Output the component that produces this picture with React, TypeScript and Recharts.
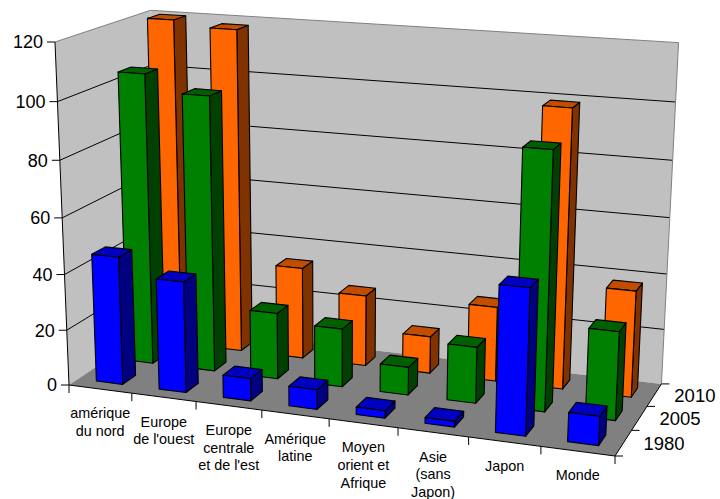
import React from 'react';
import { BarChart, Bar, XAxis, YAxis } from 'recharts';

// Regions and their wrapped label lines
const categories = ['amérique du nord', "Europe de l'ouest", "Europe centrale et de l'est", 'Amérique latine', 'Moyen orient et Afrique', 'Asie (sans Japon)', 'Japon', 'Monde'];
const categoryLines = [
  ['amérique', 'du nord'],
  ['Europe', "de l'ouest"],
  ['Europe', 'centrale', "et de l'est"],
  ['Amérique', 'latine'],
  ['Moyen', 'orient et', 'Afrique'],
  ['Asie', '(sans', 'Japon)'],
  ['Japon'],
  ['Monde'],
];
const values1980 = [46, 39.7, 8, 7, 2.6, 2, 50.3, 10];
const values2005 = [105, 99, 24, 21, 10, 20, 90, 31];
const values2010 = [120, 118, 33.7, 26, 13.5, 27, 99, 38];
const yTicks = [0, 20, 40, 60, 80, 100, 120];
const depthLabels = ['1980', '2005', '2010'];

const W = 720;
const H = 499;
const Y_MAX = 120;
const FONT = '"Liberation Sans", Arial, sans-serif';

const data = categories.map((name, i) => ({
  name,
  v1980: values1980[i],
  v2005: values2005[i],
  v2010: values2010[i],
}));

// Perspective map from the unit box (u along categories, v into depth, w up) to the page
const PG = -0.09;
const PH = 0.095;
const PI = -0.05;
const A = [69, 385];
const B = [615, 456];
const D = [159, 325];
const E = [55, 42];
const coef = (k: number) => [A[k], B[k] * (1 + PG) - A[k], D[k] * (1 + PH) - A[k], E[k] * (1 + PI) - A[k]];
const cx = coef(0);
const cy = coef(1);
const project = (u: number, v: number, w: number): [number, number] => {
  const den = 1 + PG * u + PH * v + PI * w;
  return [
    (cx[0] + cx[1] * u + cx[2] * v + cx[3] * w) / den,
    (cy[0] + cy[1] * u + cy[2] * v + cy[3] * w) / den,
  ];
};
const poly = (pts: [number, number][]) => pts.map((p) => `${p[0].toFixed(2)},${p[1].toFixed(2)}`).join(' ');

const ROW_GAP = 0.29;

type Tones = { front: string; side: string; top: string };
const blue: Tones = { front: '#0000FF', side: '#000080', top: '#0000C0' };
const green: Tones = { front: '#008000', side: '#004000', top: '#006000' };
const orange: Tones = { front: '#FF6600', side: '#803300', top: '#C04D00' };

// Draws one bar as a box whose footprint comes from the band and height from the value scale
const boxShape = (row: number, tones: Tones) => (props: any) => {
  const u0 = props.x / W;
  const u1 = (props.x + props.width) / W;
  const w = props.height / H;
  const v0 = (row + ROW_GAP) / 3;
  const v1 = (row + 1 - ROW_GAP) / 3;
  const common = { stroke: '#000', strokeWidth: 1.1, strokeLinejoin: 'round' as const };
  return (
    <g>
      <polygon {...common} fill={tones.side} points={poly([project(u1, v0, 0), project(u1, v1, 0), project(u1, v1, w), project(u1, v0, w)])} />
      <polygon {...common} fill={tones.top} points={poly([project(u0, v0, w), project(u1, v0, w), project(u1, v1, w), project(u0, v1, w)])} />
      <polygon {...common} fill={tones.front} points={poly([project(u0, v0, 0), project(u1, v0, 0), project(u1, v0, w), project(u0, v0, w)])} />
    </g>
  );
};

// Walls, floor and gridlines behind the bars
const Room = () => (
  <g>
    <polygon fill="#C0C0C0" points={poly([project(0, 0, 0), project(0, 1, 0), project(0, 1, 1), project(0, 0, 1)])} />
    <polygon fill="#C0C0C0" points={poly([project(0, 1, 0), project(1, 1, 0), project(1, 1, 1), project(0, 1, 1)])} />
    <polygon fill="#808080" points={poly([project(0, 0, 0), project(1, 0, 0), project(1, 1, 0), project(0, 1, 0)])} />
    {yTicks.filter((t) => t > 0 && t < Y_MAX).map((t) => (
      <polyline key={t} fill="none" stroke="#000" strokeWidth={1} points={poly([project(0, 0, t / Y_MAX), project(0, 1, t / Y_MAX), project(1, 1, t / Y_MAX)])} />
    ))}
    <polyline fill="none" stroke="#808080" strokeWidth={1} points={poly([project(0, 0, 1), project(0, 1, 1), project(1, 1, 1), project(1, 1, 0)])} />
    <line stroke="#000" strokeWidth={1} x1={project(0, 0, 0)[0]} y1={project(0, 0, 0)[1]} x2={project(0, 0, 1)[0]} y2={project(0, 0, 1)[1]} />
    <polyline fill="none" stroke="#000" strokeWidth={1} points={poly([project(0, 0, 0), project(1, 0, 0), project(1, 1, 0)])} />
    {depthLabels.map((label, i) => {
      const [x, y] = project(1, i / 3, 0);
      const [lx, ly] = project(1, (i + 0.5) / 3, 0);
      return (
        <g key={label}>
          <line stroke="#000" x1={x} y1={y} x2={x + 8} y2={y} />
          <text x={lx + 20} y={ly} dy="0.36em" fontFamily={FONT} fontSize={18.5} fill="#000">{label}</text>
        </g>
      );
    })}
    {(() => {
      const [x, y] = project(1, 1, 0);
      return <line stroke="#000" x1={x} y1={y} x2={x + 8} y2={y} />;
    })()}
  </g>
);

// Category tick: a mark at the band's start and wrapped label under its centre
const CategoryTick = (props: any) => {
  const u = props.x / W;
  const band = 1 / categories.length;
  const [mx, my] = project(u - band / 2, 0, 0);
  const [ex, ey] = project(u + band / 2, 0, 0);
  const [lx, ly] = project(u, 0, 0);
  const lines = categoryLines[props.index] ?? [];
  return (
    <g>
      <line stroke="#000" x1={mx} y1={my} x2={mx} y2={my + 8} />
      {props.index === categories.length - 1 && <line stroke="#000" x1={ex} y1={ey} x2={ex} y2={ey + 8} />}
      {lines.map((line: string, i: number) => (
        <text key={i} x={lx} y={ly + 24 + i * 17.7} dy="0.36em" textAnchor="middle" fontFamily={FONT} fontSize={14.4} fill="#000">{line}</text>
      ))}
    </g>
  );
};

// Value tick on the near wall edge
const ValueTick = (props: any) => {
  const w = 1 - props.y / H;
  const [x, y] = project(0, 0, w);
  return (
    <g>
      <line stroke="#000" x1={x - 8} y1={y} x2={x} y2={y} />
      <text x={x - 12} y={y} dy="0.36em" textAnchor="end" fontFamily={FONT} fontSize={18} fill="#000">{props.payload.value}</text>
    </g>
  );
};

export default function App() {
  return (
    <div style={{ position: 'absolute', left: 0, top: 0, width: W, height: H }}>
      <BarChart width={W} height={H} data={data} margin={{ top: 0, right: 0, bottom: -1, left: -1 }} barCategoryGap="29%">
        <Room />
        <XAxis xAxisId="front" dataKey="name" height={1} interval={0} axisLine={false} tickLine={false} tick={CategoryTick} />
        <XAxis xAxisId="middle" dataKey="name" hide />
        <XAxis xAxisId="back" dataKey="name" hide />
        <YAxis width={1} domain={[0, Y_MAX]} ticks={yTicks} interval={0} axisLine={false} tickLine={false} tick={ValueTick} />
        <Bar xAxisId="back" dataKey="v2010" isAnimationActive={false} shape={boxShape(2, orange)} />
        <Bar xAxisId="middle" dataKey="v2005" isAnimationActive={false} shape={boxShape(1, green)} />
        <Bar xAxisId="front" dataKey="v1980" isAnimationActive={false} shape={boxShape(0, blue)} />
      </BarChart>
    </div>
  );
}
